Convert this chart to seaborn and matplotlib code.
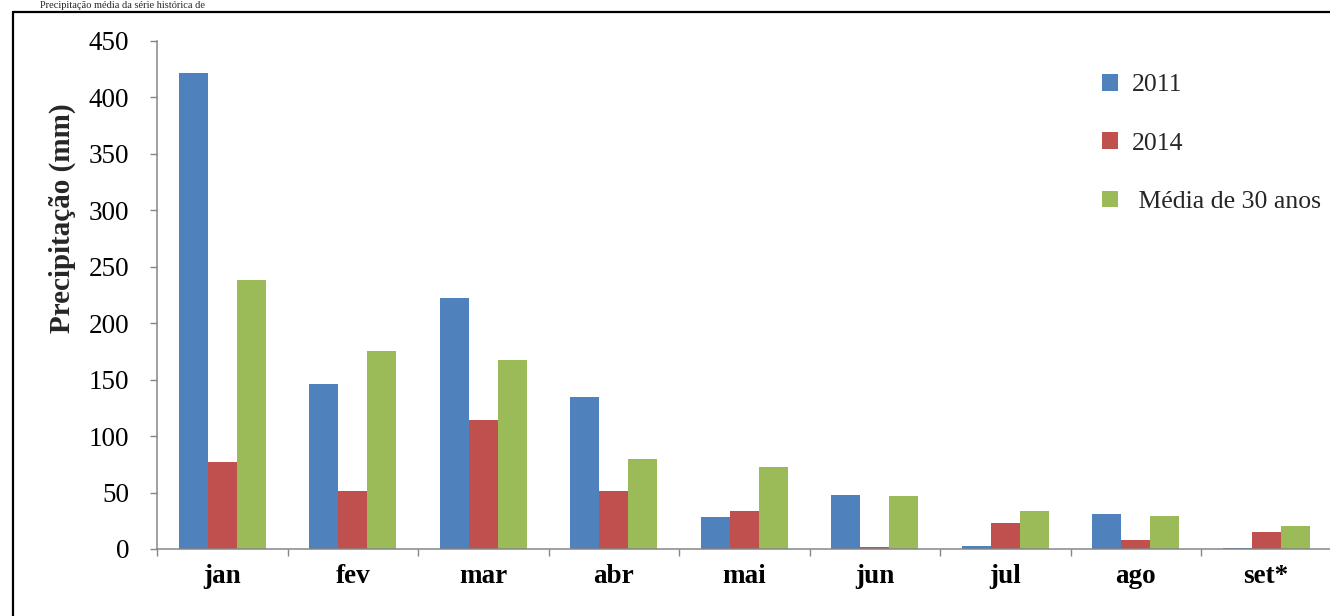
import matplotlib
matplotlib.use("Agg")
import matplotlib.pyplot as plt
from matplotlib.lines import Line2D
from matplotlib.ticker import FixedLocator, NullFormatter
import seaborn as sns
import pandas as pd

months = ["jan", "fev", "mar", "abr", "mai", "jun", "jul", "ago", "set*"]
series_names = ["2011", "2014", " Média de 30 anos"]
rain_2011 = [422, 146, 222, 135, 28, 48, 3, 31, 1]
rain_2014 = [77, 51, 114, 51, 34, 1.5, 23, 8, 15]
rain_mean30 = [238, 175, 167, 80, 73, 47, 34, 29, 20]
bar_colors = ["#4F81BD", "#C0504D", "#9BBB59"]
y_ticks = [0, 50, 100, 150, 200, 250, 300, 350, 400, 450]
caption = "Precipitação média da série histórica de"

df = pd.DataFrame({
    "mes": months * 3,
    "serie": [series_names[0]] * 9 + [series_names[1]] * 9 + [series_names[2]] * 9,
    "mm": rain_2011 + rain_2014 + rain_mean30,
})

sns.set_theme(style="white")
plt.rcParams["font.family"] = ["Liberation Serif", "DejaVu Serif"]

W, H = 1330, 616
fig = plt.figure(figsize=(W / 100, H / 100), dpi=100)
ax = fig.add_axes([157 / W, 1 - 549 / H, 1174.5 / W, 508 / H])

sns.barplot(data=df, x="mes", y="mm", hue="serie", order=months,
            hue_order=series_names, palette=bar_colors, width=0.667,
            saturation=1, ax=ax, edgecolor="none", linewidth=0)

ax.set_xlim(-0.5, 8.5)
ax.set_ylim(0, 450)
ax.set_yticks(y_ticks)
ax.set_xlabel("")
ax.set_ylabel("Precipitação (mm)", fontsize=21, fontweight="bold", va="center")
ax.yaxis.set_label_coords((62 - 157) / 1174.5, (549 - 218) / 508)

axis_gray = "#868686"
for side in ["top", "right"]:
    ax.spines[side].set_visible(False)
for side in ["left", "bottom"]:
    ax.spines[side].set_color(axis_gray)
    ax.spines[side].set_linewidth(1.1)

ax.tick_params(axis="y", which="major", direction="out", length=5,
               width=1, color=axis_gray, labelsize=19.5, pad=15, left=True)
ax.tick_params(axis="x", which="major", length=0, labelsize=19.5, pad=11)
ax.xaxis.set_minor_locator(FixedLocator([i - 0.5 for i in range(10)]))
ax.xaxis.set_minor_formatter(NullFormatter())
ax.tick_params(axis="x", which="minor", direction="out", length=5,
               width=1, color=axis_gray, bottom=True)
for lab in ax.get_xticklabels():
    lab.set_fontweight("bold")
for lab in ax.get_xticklabels() + ax.get_yticklabels():
    lab.set_color("black")

ax.legend(loc="upper left", bbox_to_anchor=((1102 - 157) / 1174.5, (549 - 74) / 508),
          frameon=False, fontsize=18.5, handlelength=0.62, handleheight=0.62,
          handletextpad=0.55, labelspacing=1.4, borderaxespad=0, borderpad=0)

# page frame around the figure and the caption line above it
fx, fy = 12.5 / W, 1 - 11.5 / H
fig.add_artist(Line2D([fx, fx], [0, fy], color="black", lw=1.6, transform=fig.transFigure))
fig.add_artist(Line2D([fx, 1], [fy, fy], color="black", lw=1.6, transform=fig.transFigure))
fig.text(40 / W, 1 - 8.5 / H, caption, fontsize=7.5, va="baseline", ha="left")

fig.savefig("out.png", dpi=100)
